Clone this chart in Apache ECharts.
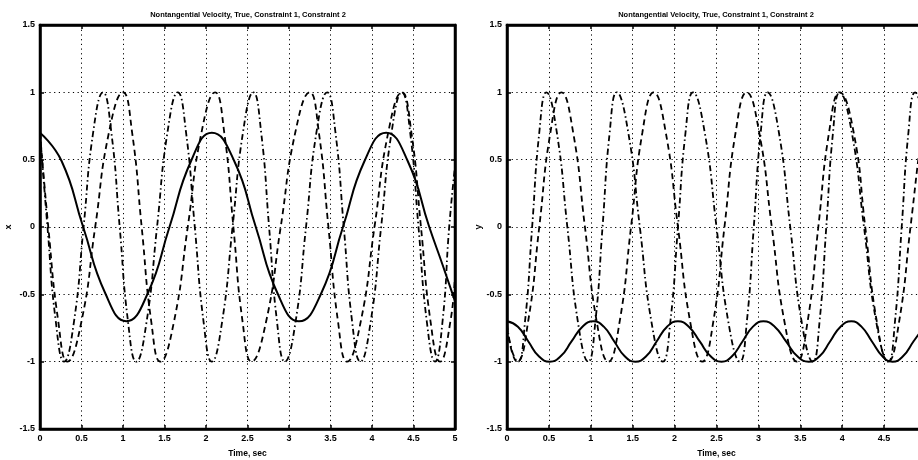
<!DOCTYPE html>
<html>
<head>
<meta charset="utf-8">
<script src="https://cdn.jsdelivr.net/npm/echarts@6/dist/echarts.min.js"></script>
<style>
html, body { margin: 0; padding: 0; background: #fff; }
#main { width: 918px; height: 460px; }
</style>
</head>
<body>
<div id="main"></div>
<script>
// tick values of both plots
var timeTicks = [0, 0.5, 1, 1.5, 2, 2.5, 3, 3.5, 4, 4.5, 5];
var valueTicks = [-1.5, -1, -0.5, 0, 0.5, 1, 1.5];

var plotTitles = ['Nontangential Velocity, True, Constraint 1, Constraint 2', 'Nontangential Velocity, True, Constraint 1, Constraint 2'];
var axisNames = ['x', 'y'];

// left plot (x) : [time, value]
var xTrue = [[0, 0.70], [0.26, 0.49], [0.52, 0], [0.785, -0.49], [1.04, -0.70], [1.30, -0.49], [1.56, 0], [1.82, 0.49], [2.07, 0.70], [2.34, 0.49], [2.60, 0], [2.86, -0.49], [3.12, -0.70], [3.39, -0.49], [3.65, 0], [3.91, 0.49], [4.17, 0.70], [4.43, 0.49], [4.69, 0], [4.85, -0.28], [5.0, -0.55]];
var xCons1 = [[0, 0.70], [0.10, 0], [0.22, -0.7], [0.33, -1], [0.50, -0.7], [0.665, 0], [0.83, 0.7], [1.0, 1], [1.11, 0.7], [1.225, 0], [1.34, -0.7], [1.45, -1], [1.615, -0.7], [1.78, 0], [1.945, 0.7], [2.11, 1], [2.22, 0.7], [2.33, 0], [2.44, -0.7], [2.55, -1], [2.725, -0.7], [2.90, 0], [3.075, 0.7], [3.25, 1], [3.36, 0.7], [3.475, 0], [3.59, -0.7], [3.70, -1], [3.865, -0.7], [4.03, 0], [4.195, 0.7], [4.36, 1], [4.475, 0.7], [4.59, 0], [4.705, -0.7], [4.82, -1], [4.945, -0.7], [5.0, -0.35]];
var xCons2 = [[0, 0.70], [0.09, 0], [0.19, -0.7], [0.29, -1], [0.41, -0.7], [0.525, 0], [0.64, 0.7], [0.76, 1], [0.86, 0.7], [0.96, 0], [1.06, -0.7], [1.16, -1], [1.285, -0.7], [1.41, 0], [1.535, 0.7], [1.66, 1], [1.76, 0.7], [1.865, 0], [1.97, -0.7], [2.07, -1], [2.195, -0.7], [2.32, 0], [2.445, 0.7], [2.57, 1], [2.665, 0.7], [2.76, 0], [2.855, -0.7], [2.95, -1], [3.08, -0.7], [3.205, 0], [3.33, 0.7], [3.46, 1], [3.56, 0.7], [3.66, 0], [3.76, -0.7], [3.86, -1], [3.985, -0.7], [4.11, 0], [4.235, 0.7], [4.36, 1], [4.46, 0.7], [4.56, 0], [4.66, -0.7], [4.76, -1], [4.85, -0.7], [4.93, 0], [5.0, 0.45]];

// right plot (y)
var yTrue = [[0, -0.70], [0.13, -0.74], [0.255, -0.85], [0.38, -0.96], [0.51, -1.0], [0.64, -0.96], [0.77, -0.85], [0.90, -0.74], [1.03, -0.70], [1.155, -0.74], [1.28, -0.85], [1.405, -0.96], [1.53, -1.0], [1.66, -0.96], [1.785, -0.85], [1.91, -0.74], [2.04, -0.70], [2.17, -0.74], [2.30, -0.85], [2.43, -0.96], [2.56, -1.0], [2.685, -0.96], [2.81, -0.85], [2.935, -0.74], [3.06, -0.70], [3.195, -0.74], [3.33, -0.85], [3.465, -0.96], [3.60, -1.0], [3.73, -0.96], [3.855, -0.85], [3.98, -0.74], [4.11, -0.70], [4.23, -0.74], [4.355, -0.85], [4.48, -0.96], [4.60, -1.0], [4.725, -0.96], [4.85, -0.85], [5.0, -0.72]];
var yCons1 = [[0, -0.74], [0.06, -0.93], [0.12, -1], [0.2525, -0.7], [0.385, 0], [0.5175, 0.7], [0.65, 1], [0.79, 0.7], [0.93, 0], [1.07, -0.7], [1.21, -1], [1.345, -0.7], [1.48, 0], [1.615, 0.7], [1.75, 1], [1.895, 0.7], [2.04, 0], [2.185, -0.7], [2.33, -1], [2.4625, -0.7], [2.595, 0], [2.7275, 0.7], [2.86, 1], [3.01, 0.7], [3.16, 0], [3.31, -0.7], [3.46, -1], [3.5875, -0.7], [3.715, 0], [3.8425, 0.7], [3.97, 1], [4.1375, 0.7], [4.275, 0], [4.4125, -0.7], [4.55, -1], [4.68, -0.7], [4.815, 0], [4.95, 0.7], [5.0, 0.85]];
var yCons2 = [[0, -0.72], [0.06, -0.92], [0.13, -1], [0.215, -0.7], [0.30, 0], [0.385, 0.7], [0.47, 1], [0.595, 0.7], [0.72, 0], [0.845, -0.7], [0.97, -1], [1.055, -0.7], [1.14, 0], [1.225, 0.7], [1.31, 1], [1.4475, 0.7], [1.585, 0], [1.7225, -0.7], [1.86, -1], [1.95, -0.7], [2.04, 0], [2.13, 0.7], [2.22, 1], [2.36, 0.7], [2.50, 0], [2.64, -0.7], [2.78, -1], [2.8625, -0.7], [2.945, 0], [3.0275, 0.7], [3.11, 1], [3.245, 0.7], [3.38, 0], [3.515, -0.7], [3.65, -1], [3.73, -0.7], [3.81, 0], [3.89, 0.7], [3.97, 1], [4.115, 0.7], [4.26, 0], [4.405, -0.7], [4.55, -1], [4.63, -0.7], [4.71, 0], [4.79, 0.7], [4.87, 1], [5.0, 0.72]];

var font = '"Liberation Sans", Arial, sans-serif';
var myChart = echarts.init(document.getElementById('main'), null, { renderer: 'canvas' });

function xAxisFor(grid, pos) {
    var bottom = pos === 'bottom';
    return {
        type: 'value', gridIndex: grid, position: pos,
        min: timeTicks[0], max: timeTicks[timeTicks.length - 1], interval: 0.5,
        axisLine: { show: true, onZero: false, lineStyle: { color: '#000', width: 2.5 } },
        axisTick: { show: true, inside: true, length: 4, lineStyle: { color: '#000', width: 1.5 } },
        axisLabel: { show: bottom, color: '#000', fontSize: 9, fontWeight: 'bold', fontFamily: font, margin: 5 },
        splitLine: { show: bottom, lineStyle: { color: '#000', width: 1, type: [1.2, 3.5] } },
        name: bottom ? 'Time, sec' : '', nameLocation: 'middle', nameGap: 20,
        nameTextStyle: { color: '#000', fontSize: 8.5, fontWeight: 'bold', fontFamily: font }
    };
}

function yAxisFor(grid, pos, name, gap) {
    var left = pos === 'left';
    return {
        type: 'value', gridIndex: grid, position: pos,
        min: valueTicks[0], max: valueTicks[valueTicks.length - 1], interval: 0.5,
        axisLine: { show: true, onZero: false, lineStyle: { color: '#000', width: 2.5 } },
        axisTick: { show: true, inside: true, length: 4, lineStyle: { color: '#000', width: 1.5 } },
        axisLabel: { show: left, color: '#000', fontSize: 9, fontWeight: 'bold', fontFamily: font, margin: 5 },
        splitLine: { show: left, lineStyle: { color: '#000', width: 1, type: [1.2, 3.5] } },
        name: left ? name : '', nameLocation: 'middle', nameGap: gap,
        nameTextStyle: { color: '#000', fontSize: 9, fontWeight: 'bold', fontFamily: font }
    };
}

function curve(data, idx, type) {
    return {
        type: 'line', xAxisIndex: idx, yAxisIndex: idx, data: data,
        smooth: 0.5, showSymbol: false, symbol: 'none',
        lineStyle: { color: '#000', width: type === 'solid' ? 2 : 1.8, type: type }
    };
}

var dashed = [6, 4];
var dashDot = [6, 3, 1.5, 3];

var option = {
    animation: false,
    backgroundColor: '#fff',
    grid: [
        { left: 40, top: 25, width: 415, height: 404, show: true, borderColor: '#000', borderWidth: 2.5, outerBoundsMode: 'none' },
        // right plot runs past the edge of the picture (x = 5 is cut off)
        { left: 507, top: 25, width: 419, height: 404, show: true, borderColor: '#000', borderWidth: 2.5, outerBoundsMode: 'none' }
    ],
    xAxis: [xAxisFor(0, 'bottom'), xAxisFor(1, 'bottom'), xAxisFor(0, 'top'), xAxisFor(1, 'top')],
    yAxis: [yAxisFor(0, 'left', axisNames[0], 27), yAxisFor(1, 'left', axisNames[1], 16), yAxisFor(0, 'right'), yAxisFor(1, 'right')],
    graphic: [
        { type: 'text', x: 248, y: 15, style: { text: plotTitles[0], align: 'center', verticalAlign: 'middle', fill: '#000', font: 'bold 7.5px ' + font } },
        { type: 'text', x: 716, y: 15, style: { text: plotTitles[1], align: 'center', verticalAlign: 'middle', fill: '#000', font: 'bold 7.5px ' + font } }
    ],
    series: [
        curve(xTrue, 0, 'solid'),
        curve(xCons1, 0, dashed),
        curve(xCons2, 0, dashDot),
        curve(yTrue, 1, 'solid'),
        curve(yCons1, 1, dashed),
        curve(yCons2, 1, dashDot)
    ]
};

myChart.setOption(option);
</script>
</body>
</html>
